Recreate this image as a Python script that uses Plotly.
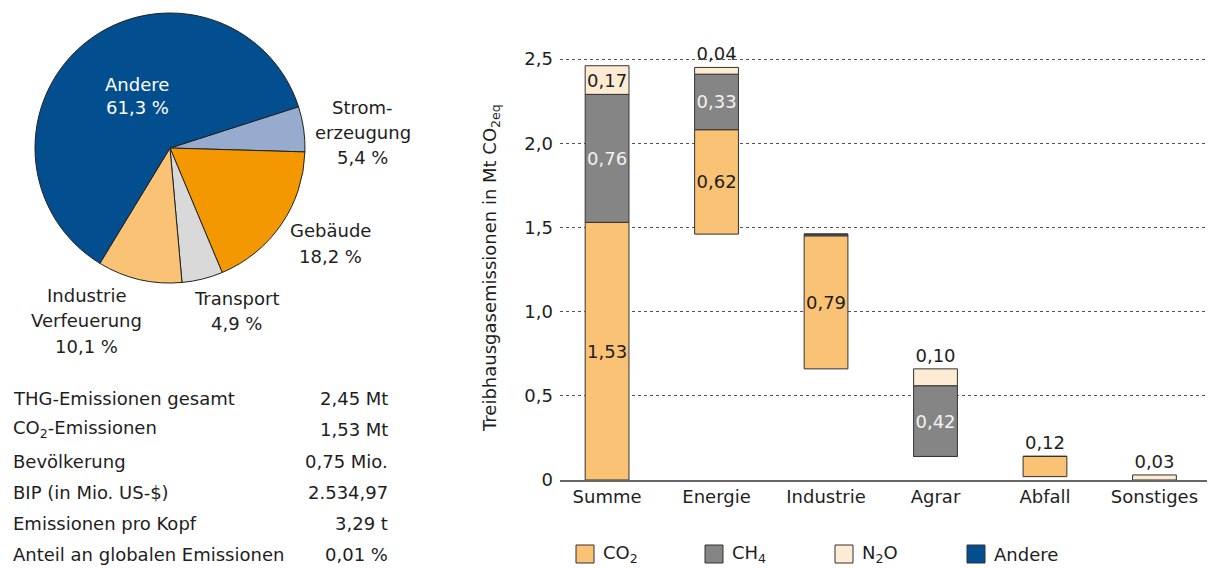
import plotly.graph_objects as go

W, H = 1213, 568

# ---------------- data ----------------
pie_labels = ["Stromerzeugung", "Gebäude", "Transport", "Industrie Verfeuerung", "Andere"]
pie_values = [5.4, 18.2, 4.9, 10.1, 61.3]
pie_colors = ["#97ABCF", "#F39800", "#D9D9D9", "#F9C275", "#034E8F"]

pie_text = {
    "Andere": ["Andere", "61,3 %"],
    "Stromerzeugung": ["Strom-", "erzeugung", "5,4 %"],
    "Gebäude": ["Gebäude", "18,2 %"],
    "Transport": ["Transport", "4,9 %"],
    "Industrie Verfeuerung": ["Industrie", "Verfeuerung", "10,1 %"],
}

table_labels = ["THG-Emissionen gesamt", "CO<sub>2</sub>-Emissionen", "Bevölkerung",
                "BIP (in Mio. US-$)", "Emissionen pro Kopf", "Anteil an globalen Emissionen"]
table_values = ["2,45 Mt", "1,53 Mt", "0,75 Mio.", "2.534,97", "3,29 t", "0,01 %"]

categories = ["Summe", "Energie", "Industrie", "Agrar", "Abfall", "Sonstiges"]
bar_base = [0, 1.46, 0.66, 0.14, 0.02, 0]
co2 = [1.53, 0.62, 0.79, 0, 0.12, 0]
ch4 = [0.76, 0.33, 0.01, 0.42, 0, 0]
n2o = [0.17, 0.04, 0, 0.10, 0, 0.03]

co2_pos = ["inside", "inside", "inside", "none", "outside", "none"]
ch4_pos = ["inside", "inside", "none", "inside", "none", "none"]
n2o_pos = ["inside", "outside", "none", "outside", "none", "outside"]

ytick_vals = [0, 0.5, 1.0, 1.5, 2.0, 2.5]
ytick_text = ["0", "0,5", "1,0", "1,5", "2,0", "2,5"]

legend_names = ["CO<sub>2</sub>", "CH<sub>4</sub>", "N<sub>2</sub>O", "Andere"]
legend_colors = ["#F9C275", "#858585", "#FDEBD3", "#034E8F"]
bar_colors = {"co2": "#F9C275", "ch4": "#858585", "n2o": "#FDEBD3"}

FONT = "DejaVu Sans"
TXT = "#1E1E1E"


def px(x):
    return x / W


def py(y):
    return 1 - y / H


def fmt(v):
    return f"{v:.2f}".replace(".", ",")


fig = go.Figure()

# ---------------- pie ----------------
fig.add_trace(go.Pie(
    labels=pie_labels, values=pie_values, sort=False, direction="clockwise",
    rotation=72.2, textinfo="none", hoverinfo="label+percent",
    marker=dict(colors=pie_colors, line=dict(color="#222222", width=1)),
    domain=dict(x=[px(35), px(305)], y=[py(283), py(13)]),
    showlegend=False,
))

# ---------------- bars ----------------
base_ch4 = [b + c for b, c in zip(bar_base, co2)]
base_n2o = [b + c for b, c in zip(base_ch4, ch4)]

for vals, bases, pos, key, inside_col in [
    (co2, bar_base, co2_pos, "co2", TXT),
    (ch4, base_ch4, ch4_pos, "ch4", "#F2F2F2"),
    (n2o, base_n2o, n2o_pos, "n2o", TXT),
]:
    fig.add_trace(go.Bar(
        x=categories, y=vals, base=bases, width=0.4,
        marker=dict(color=bar_colors[key], line=dict(color="#333333", width=1)),
        text=[fmt(v) for v in vals], textposition=pos, textangle=0,
        constraintext="none", cliponaxis=False,
        insidetextanchor="middle",
        insidetextfont=dict(family=FONT, size=18, color=inside_col),
        outsidetextfont=dict(family=FONT, size=18, color=TXT),
        showlegend=False, xaxis="x", yaxis="y",
    ))

annotations = []

# pie labels
label_pos = {
    "Andere": (137, [84, 108], "#FFFFFF"),
    "Stromerzeugung": (363, [107, 132, 157], TXT),
    "Gebäude": (330, [230, 256], TXT),
    "Transport": (237, [298, 323], TXT),
    "Industrie Verfeuerung": (86, [295, 320, 346], TXT),
}
for lab in pie_labels:
    x, ys, col = label_pos[lab]
    for line, y in zip(pie_text[lab], ys):
        annotations.append(dict(x=px(x), y=py(y), xref="paper", yref="paper",
                                text=line, showarrow=False, xanchor="center", yanchor="middle",
                                font=dict(family=FONT, size=18, color=col)))

# table
row_y = [398, 429, 461, 492, 523, 554]
for lab, val, y in zip(table_labels, table_values, row_y):
    annotations.append(dict(x=px(11), y=py(y), xref="paper", yref="paper", text=lab,
                            showarrow=False, xanchor="left", yanchor="middle",
                            font=dict(family=FONT, size=18, color=TXT)))
    annotations.append(dict(x=px(390), y=py(y), xref="paper", yref="paper", text=val,
                            showarrow=False, xanchor="right", yanchor="middle",
                            font=dict(family=FONT, size=18, color=TXT)))

# y axis title
annotations.append(dict(x=px(491), y=py(268), xref="paper", yref="paper",
                        text="Treibhausgasemissionen in Mt CO<sub>2eq</sub>", textangle=-90,
                        showarrow=False, xanchor="center", yanchor="middle",
                        font=dict(family=FONT, size=18, color=TXT)))

# custom legend
shapes = []
leg_x = [576, 705, 835, 967]
for name, col, x in zip(legend_names, legend_colors, leg_x):
    shapes.append(dict(type="rect", xref="paper", yref="paper",
                       x0=px(x), x1=px(x + 18), y0=py(563), y1=py(545),
                       fillcolor=col, line=dict(color="#333333", width=1)))
    annotations.append(dict(x=px(x + 25), y=py(554), xref="paper", yref="paper", text=name,
                            showarrow=False, xanchor="left", yanchor="middle",
                            font=dict(family=FONT, size=18, color=TXT)))

fig.update_layout(
    template="none",
    width=W, height=H, margin=dict(l=0, r=0, t=0, b=0, pad=0, autoexpand=False),
    paper_bgcolor="white", plot_bgcolor="white",
    font=dict(family=FONT, size=18, color=TXT),
    barmode="overlay", showlegend=False,
    annotations=annotations, shapes=shapes,
    xaxis=dict(domain=[px(560), px(1207)], range=[-0.43, 5.48], showline=True,
               linecolor="#666666", linewidth=1.5, ticks="", showgrid=False,
               automargin=False, zeroline=False,
               tickfont=dict(family=FONT, size=18, color=TXT), fixedrange=True),
    yaxis=dict(domain=[py(480), py(480 - 2.6 * 168.4)], range=[0, 2.6],
               tickvals=ytick_vals, ticktext=ytick_text, showgrid=True,
               gridcolor="#555555", griddash="dot", gridwidth=1, zeroline=False,
               showline=False, ticks="", ticklabelstandoff=6, automargin=False,
               tickfont=dict(family=FONT, size=18, color=TXT), fixedrange=True),
)

fig.write_html("out.html", config={"displayModeBar": False},
               post_script="document.body.style.margin='0';")
